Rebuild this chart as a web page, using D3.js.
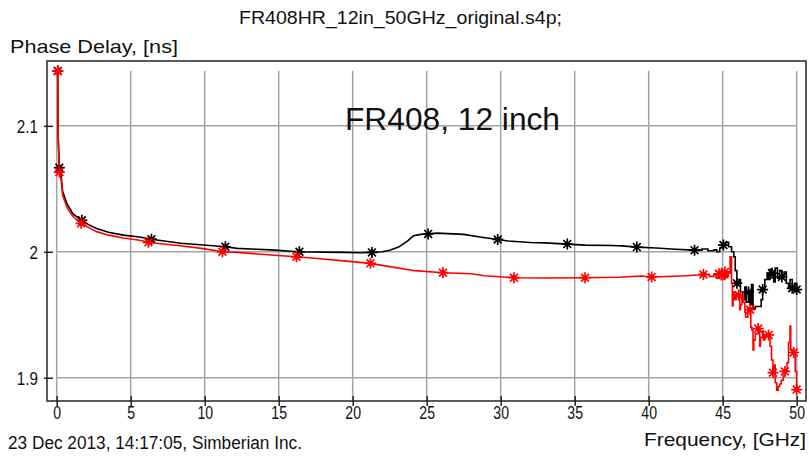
<!DOCTYPE html>
<html>
<head>
<meta charset="utf-8">
<script src="https://cdn.jsdelivr.net/npm/d3@7"></script>
<style>
  html, body { margin: 0; padding: 0; background: #fff; }
  svg { display: block; }
  text { font-family: "Liberation Sans", Arial, sans-serif; fill: #111; }
</style>
</head>
<body>
<svg id="chart" width="809" height="456"></svg>
<script>
// Phase delay of the 12 inch FR408HR line, two traces.
const freqTicks = [0, 5, 10, 15, 20, 25, 30, 35, 40, 45, 50];
const delayTicks = [1.9, 2, 2.1];

const blackFreq = [0.07, 0.10, 0.18, 0.30, 0.40, 0.70, 1.10, 1.70, 2.20, 2.70, 3.50, 4.50, 5.60, 6.40, 7.50, 8.40, 9.70,
  11.40, 12.20, 13.50, 14.50, 15.80, 16.40, 18.00, 19.40, 20.50, 21.30, 22.00, 22.50, 23.10, 23.70, 24.10, 24.60,
  25.10, 25.70, 27.50, 28.70, 29.80, 30.50, 32.00, 33.00, 34.50, 35.70, 37.50, 38.20, 39.20, 40.50, 41.80, 43.10,
  43.60, 44.00, 44.40, 44.60, 44.80, 45.05, 45.20, 45.40, 45.60, 45.75, 45.85, 45.96, 46.10, 46.20, 46.35, 46.50,
  46.60, 46.75, 46.85, 46.95, 47.05, 47.20, 47.50, 47.60, 47.70, 47.85, 48.00, 48.10, 48.20, 48.33, 48.45, 48.55,
  48.70, 48.85, 49.00, 49.15, 49.30, 49.45, 49.55, 49.70, 49.85, 50.00];
const blackDelay = [2.1436, 2.0920, 2.0668, 2.0605, 2.0480, 2.0380, 2.0300, 2.0250, 2.0212, 2.0185, 2.0155, 2.0132, 2.0117, 2.0100, 2.0082, 2.0068, 2.0056,
  2.0040, 2.0027, 2.0020, 2.0015, 2.0004, 2.0000, 1.9997, 1.9995, 1.9992, 1.9995, 2.0000, 2.0012, 2.0037, 2.0085, 2.0127, 2.0138,
  2.0142, 2.0148, 2.0138, 2.0116, 2.0098, 2.0085, 2.0074, 2.0071, 2.0061, 2.0053, 2.0050, 2.0047, 2.0037, 2.0030, 2.0020, 2.0013,
  2.0022, 2.0008, 2.0015, 2.0000, 2.0030, 2.0053, 2.0075, 2.0040, 2.0000, 1.9960, 1.9850, 1.9750, 1.9780, 1.9680, 1.9620, 1.9720,
  1.9600, 1.9680, 1.9580, 1.9740, 1.9550, 1.9565, 1.9565, 1.9620, 1.9700, 1.9780, 1.9830, 1.9780, 1.9860, 1.9830, 1.9760, 1.9870,
  1.9790, 1.9850, 1.9800, 1.9840, 1.9750, 1.9710, 1.9780, 1.9710, 1.9750, 1.9700];
const blackMarkFreq = [0.07, 0.18, 1.70, 6.40, 11.40, 16.40, 21.30, 25.10, 29.80, 34.50, 39.20, 43.10, 45.05, 45.96,
  46.75, 47.70, 48.33, 49.00, 49.70, 50.00];

const redFreq = [0.07, 0.10, 0.18, 0.30, 0.40, 0.70, 1.10, 1.65, 2.20, 2.70, 3.50, 4.50, 5.60, 6.20, 7.50, 8.35, 9.90,
  11.20, 12.20, 13.80, 14.70, 16.20, 17.80, 19.20, 21.20, 22.60, 24.20, 26.10, 28.00, 28.90, 30.90, 32.75, 35.70,
  38.00, 39.50, 40.20, 42.20, 43.30, 43.70, 44.10, 44.40, 44.60, 44.75, 44.90, 45.05, 45.15, 45.25, 45.35, 45.45,
  45.50, 45.60, 45.65, 45.70, 45.80, 45.90, 46.07, 46.15, 46.20, 46.30, 46.40, 46.50, 46.55, 46.70, 46.85, 46.90,
  46.97, 47.05, 47.10, 47.20, 47.40, 47.50, 47.55, 47.70, 47.75, 47.85, 48.10, 48.20, 48.30, 48.40, 48.50, 48.55,
  48.65, 48.75, 48.85, 48.95, 49.10, 49.20, 49.35, 49.45, 49.55, 49.60, 49.80, 49.90, 50.00];
const redDelay = [2.1436, 2.0900, 2.0633, 2.0575, 2.0450, 2.0350, 2.0280, 2.0226, 2.0190, 2.0160, 2.0132, 2.0110, 2.0092, 2.0075, 2.0058, 2.0048, 2.0025,
  2.0000, 1.9995, 1.9980, 1.9972, 1.9960, 1.9945, 1.9930, 1.9908, 1.9880, 1.9850, 1.9834, 1.9826, 1.9810, 1.9794, 1.9792, 1.9794,
  1.9798, 1.9808, 1.9800, 1.9808, 1.9815, 1.9820, 1.9805, 1.9818, 1.9790, 1.9825, 1.9816, 1.9780, 1.9840, 1.9795, 1.9835, 1.9830,
  1.9960, 1.9750, 1.9570, 1.9680, 1.9620, 1.9660, 1.9657, 1.9540, 1.9580, 1.9640, 1.9600, 1.9520, 1.9480, 1.9550, 1.9540, 1.9400,
  1.9380, 1.9220, 1.9300, 1.9350, 1.9390, 1.9250, 1.9320, 1.9370, 1.9300, 1.9330, 1.9340, 1.9250, 1.9140, 1.9040, 1.9100, 1.8960,
  1.8900, 1.8930, 1.8950, 1.8980, 1.9020, 1.9050, 1.9120, 1.9280, 1.9410, 1.9220, 1.9200, 1.9050, 1.8906];
const redMarkFreq = [0.07, 0.18, 1.65, 6.20, 11.20, 16.20, 21.20, 26.10, 30.90, 35.70, 40.20, 43.70, 44.75, 44.90, 45.15,
  46.07, 46.85, 47.40, 48.10, 48.40, 49.20, 49.80, 50.00];

// from this frequency on the traces are drawn as raw sample steps
const stepFrom = 43.1;

const svg = d3.select("#chart");
const W = 809, H = 456;
svg.append("rect").attr("width", W).attr("height", H).attr("fill", "#fff");

const frame = { left: 47, right: 806, top: 61, bottom: 401 };

const x = d3.scaleLinear().domain([-0.655, 50.63]).range([frame.left, frame.right]);
const y = d3.scaleLinear().domain([1.8815, 2.1515]).range([frame.bottom, frame.top]);

// squeeze text horizontally to a narrower face
function narrow(sel, factor) {
  sel.each(function () {
    const w = this.getComputedTextLength();
    d3.select(this).attr("textLength", w * factor).attr("lengthAdjust", "spacingAndGlyphs");
  });
}

// grid spans the data extent
const gridTop = y(d3.max(blackDelay.concat(redDelay)));
const grid = svg.append("g").attr("stroke", "#a3a3a3").attr("stroke-width", 1.5);
grid.selectAll("line.v").data(freqTicks).join("line")
  .attr("class", "v")
  .attr("x1", d => x(d)).attr("x2", d => x(d))
  .attr("y1", gridTop).attr("y2", frame.bottom);
grid.selectAll("line.h").data(delayTicks).join("line")
  .attr("class", "h")
  .attr("x1", x(0)).attr("x2", x(50))
  .attr("y1", d => y(d)).attr("y2", d => y(d));

// plot frame
svg.append("rect")
  .attr("x", frame.left).attr("y", frame.top)
  .attr("width", frame.right - frame.left).attr("height", frame.bottom - frame.top)
  .attr("fill", "none").attr("stroke", "#333").attr("stroke-width", 1.6);

// axes
const xAxis = svg.append("g").attr("transform", `translate(0,${frame.bottom})`)
  .call(d3.axisBottom(x).tickValues(freqTicks).tickFormat(d3.format("d")).tickSizeOuter(0));
xAxis.select(".domain").remove();
xAxis.selectAll(".tick line").attr("y1", -5).attr("y2", 5).attr("stroke", "#222").attr("stroke-width", 1.5);
xAxis.selectAll(".tick text").attr("y", 18).attr("dy", 0)
  .style("font-size", "19px").style("font-family", "\"Liberation Sans\", Arial, sans-serif").attr("fill", "#111")
  .call(narrow, 0.74);

const yAxis = svg.append("g").attr("transform", `translate(${frame.left},0)`)
  .call(d3.axisLeft(y).tickValues(delayTicks).tickFormat(d3.format("")).tickSizeOuter(0));
yAxis.select(".domain").remove();
yAxis.selectAll(".tick line").attr("x1", -3).attr("x2", 6).attr("stroke", "#222").attr("stroke-width", 1.5);
yAxis.selectAll(".tick text").attr("x", -9).attr("dy", "0.36em")
  .style("font-size", "19px").style("font-family", "\"Liberation Sans\", Arial, sans-serif").attr("fill", "#111")
  .call(narrow, 0.8);

// traces
const smoothLine = d3.line().x(d => x(d.f)).y(d => y(d.v));
const stepLine = d3.line().x(d => x(d.f)).y(d => y(d.v)).curve(d3.curveStepAfter);
const markPath = "M-5.5,0H5.5M0,-5.5V5.5M-3.9,-3.9L3.9,3.9M-3.9,3.9L3.9,-3.9";

function drawTrace(freq, delay, markFreq, color) {
  const pts = freq.map((f, i) => ({ f, v: delay[i] }));
  const marks = pts.filter(d => markFreq.includes(d.f));
  const k = pts.findIndex(d => d.f >= stepFrom);
  const g = svg.append("g");
  g.append("path").datum(pts.slice(0, k + 1))
    .attr("fill", "none").attr("stroke", color).attr("stroke-width", 1.6)
    .attr("d", smoothLine);
  g.append("path").datum(pts.slice(k))
    .attr("fill", "none").attr("stroke", color).attr("stroke-width", 1.6)
    .attr("d", stepLine);
  const m = g.selectAll("g.mark").data(marks).join("g")
    .attr("class", "mark")
    .attr("transform", d => `translate(${x(d.f)},${y(d.v)})`);
  m.append("path").attr("d", markPath).attr("stroke", color).attr("stroke-width", 1.7).attr("fill", "none");
  m.append("circle").attr("r", 2.2).attr("fill", color);
}

drawTrace(blackFreq, blackDelay, blackMarkFreq, "#000");
drawTrace(redFreq, redDelay, redMarkFreq, "#ff0000");

// titles and labels
svg.append("text").attr("x", 400.5).attr("y", 24).attr("text-anchor", "middle")
  .style("font-size", "19px").attr("textLength", 323).attr("lengthAdjust", "spacingAndGlyphs")
  .text("FR408HR_12in_50GHz_original.s4p;");

svg.append("text").attr("x", 10).attr("y", 53)
  .style("font-size", "19px").attr("textLength", 168).attr("lengthAdjust", "spacingAndGlyphs")
  .text("Phase Delay, [ns]");

svg.append("text").attr("x", 8).attr("y", 449)
  .style("font-size", "18px").attr("textLength", 294).attr("lengthAdjust", "spacingAndGlyphs")
  .text("23 Dec 2013, 14:17:05, Simberian Inc.");

svg.append("text").attr("x", 806).attr("y", 446).attr("text-anchor", "end")
  .style("font-size", "19px").attr("textLength", 162).attr("lengthAdjust", "spacingAndGlyphs")
  .text("Frequency, [GHz]");

svg.append("text").attr("x", 345).attr("y", 130)
  .style("font-size", "31px").attr("textLength", 215).attr("lengthAdjust", "spacingAndGlyphs")
  .attr("fill", "#000")
  .text("FR408, 12 inch");
</script>
</body>
</html>
